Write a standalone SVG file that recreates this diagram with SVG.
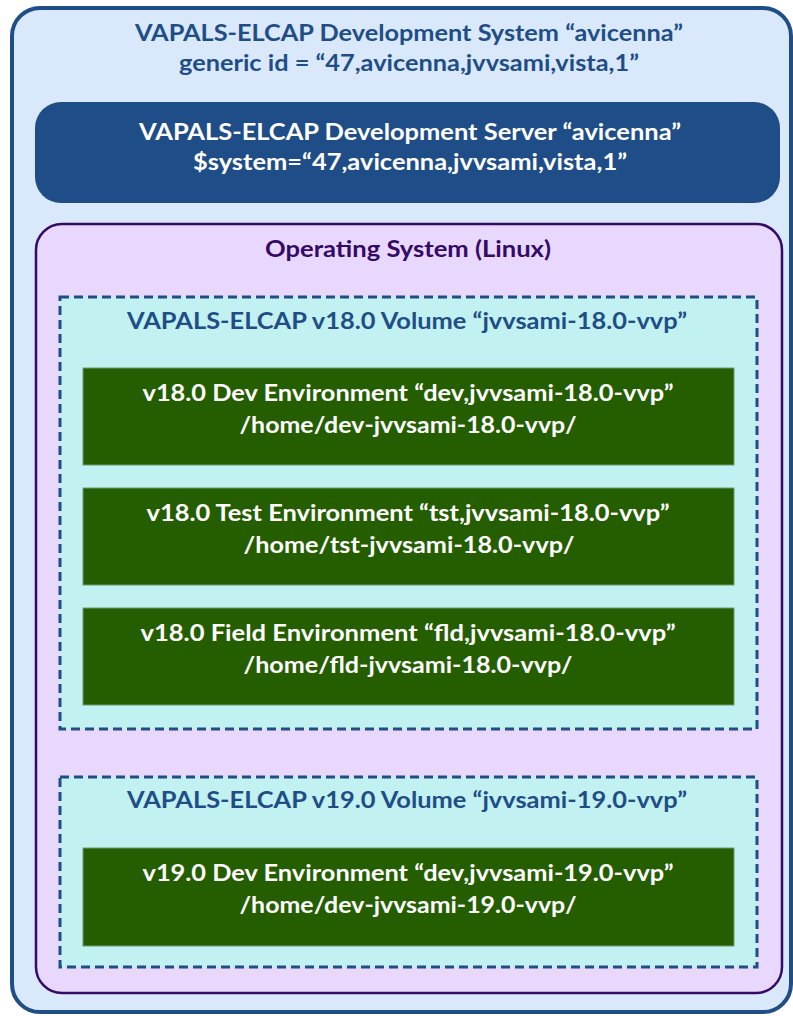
<svg xmlns="http://www.w3.org/2000/svg" width="793" height="1016" viewBox="0 0 793 1016">
<style>
text{font-family:Lato,"Open Sans","Liberation Sans",sans-serif;font-weight:bold;font-size:22px;text-anchor:middle}
.blue{fill:#1f4e87}
.white{fill:#ffffff}
.purple{fill:#330a66}
.vol{fill:#c2f1f1;stroke:#1f4e87;stroke-width:3;stroke-dasharray:9 5}
.env{fill:#245e00;stroke:#6f9a6f;stroke-width:1}
</style>
<g id="system">
<rect x="12" y="8" width="779" height="1004" rx="28" fill="#dae8fc" stroke="#1f4e87" stroke-width="4"/>
<text class="blue" x="409" y="41" textLength="548" lengthAdjust="spacingAndGlyphs">VAPALS-ELCAP Development System “avicenna”</text>
<text class="blue" x="409" y="71" textLength="460" lengthAdjust="spacingAndGlyphs">generic id = “47,avicenna,jvvsami,vista,1”</text>
</g>
<g id="server">
<rect x="35" y="102" width="745" height="101" rx="26" fill="#1f4d87"/>
<text class="white" x="410" y="140" textLength="542" lengthAdjust="spacingAndGlyphs">VAPALS-ELCAP Development Server “avicenna”</text>
<text class="white" x="410" y="170" textLength="434" lengthAdjust="spacingAndGlyphs">$system=“47,avicenna,jvvsami,vista,1”</text>
</g>
<g id="os">
<rect x="36" y="224" width="746" height="769" rx="26" fill="#e9d8fd" stroke="#330a66" stroke-width="2.5"/>
<text class="purple" x="408" y="257" textLength="286" lengthAdjust="spacingAndGlyphs">Operating System (Linux)</text>
</g>
<g id="vol18">
<rect class="vol" x="60" y="297" width="697" height="432"/>
<text class="blue" x="407" y="329" textLength="560" lengthAdjust="spacingAndGlyphs">VAPALS-ELCAP v18.0 Volume “jvvsami-18.0-vvp”</text>
</g>
<g id="dev18">
<rect class="env" x="83" y="368" width="651" height="97"/>
<text class="white" x="408" y="401" textLength="531" lengthAdjust="spacingAndGlyphs">v18.0 Dev Environment “dev,jvvsami-18.0-vvp”</text>
<text class="white" x="408" y="433" textLength="337" lengthAdjust="spacingAndGlyphs">/home/dev-jvvsami-18.0-vvp/</text>
</g>
<g id="tst18">
<rect class="env" x="83" y="488" width="651" height="97"/>
<text class="white" x="408" y="521" textLength="523" lengthAdjust="spacingAndGlyphs">v18.0 Test Environment “tst,jvvsami-18.0-vvp”</text>
<text class="white" x="409" y="553" textLength="331" lengthAdjust="spacingAndGlyphs">/home/tst-jvvsami-18.0-vvp/</text>
</g>
<g id="fld18">
<rect class="env" x="83" y="608" width="651" height="97"/>
<text class="white" x="408" y="641" textLength="535" lengthAdjust="spacingAndGlyphs">v18.0 Field Environment “fld,jvvsami-18.0-vvp”</text>
<text class="white" x="408" y="673" textLength="329" lengthAdjust="spacingAndGlyphs">/home/fld-jvvsami-18.0-vvp/</text>
</g>
<g id="vol19">
<rect class="vol" x="60" y="777" width="697" height="190"/>
<text class="blue" x="407" y="808" textLength="560" lengthAdjust="spacingAndGlyphs">VAPALS-ELCAP v19.0 Volume “jvvsami-19.0-vvp”</text>
</g>
<g id="dev19">
<rect class="env" x="83" y="848" width="651" height="98"/>
<text class="white" x="408" y="881" textLength="531" lengthAdjust="spacingAndGlyphs">v19.0 Dev Environment “dev,jvvsami-19.0-vvp”</text>
<text class="white" x="408" y="913" textLength="337" lengthAdjust="spacingAndGlyphs">/home/dev-jvvsami-19.0-vvp/</text>
</g>
<g id="connectors"></g>
</svg>
